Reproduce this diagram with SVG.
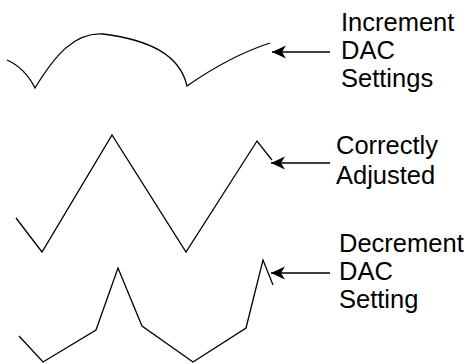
<svg xmlns="http://www.w3.org/2000/svg" width="476" height="364" viewBox="0 0 476 364">
<defs>
<marker id="arr" markerWidth="16" markerHeight="14" refX="15" refY="7" orient="auto" markerUnits="userSpaceOnUse">
<path d="M15,7 L1,0.5 L5,7 L1,13.5 Z" fill="#000"/>
</marker>
<style>
.w{fill:none;stroke:#000;stroke-width:1.3;stroke-linejoin:miter}
.c{fill:none;stroke:#000;stroke-width:1.3}
.t{font-family:"Liberation Sans",Arial,Helvetica,sans-serif;font-size:25.5px;fill:#000}
</style>
</defs>
<rect width="476" height="364" fill="#fff"/>
<g id="wave-increment">
<path class="w" d="M7,60 Q25,68 35,88 C55,55 75,32 103,34 C150,40 180,55 187,86 Q230,56 270,43"/>
</g>
<g id="wave-correct">
<path class="w" d="M16,218 L42,252 L112,135 L186,252 L257,141 L272,160"/>
</g>
<g id="wave-decrement">
<path class="w" d="M19,336 L43,362 L96,330 L118,268 L142,326 L193,362 L246,328 L263,260 L273,285"/>
</g>
<g id="connectors">
<line class="c" x1="330" y1="52" x2="272" y2="52" marker-end="url(#arr)"/>
<line class="c" x1="330" y1="163" x2="271" y2="163" marker-end="url(#arr)"/>
<line class="c" x1="330" y1="273" x2="271" y2="273" marker-end="url(#arr)"/>
</g>
<g id="label-increment">
<text class="t" x="341" y="31">Increment</text>
<text class="t" x="341" y="59">DAC</text>
<text class="t" x="341" y="87">Settings</text>
</g>
<g id="label-correct">
<text class="t" x="336" y="154">Correctly</text>
<text class="t" x="336" y="184">Adjusted</text>
</g>
<g id="label-decrement">
<text class="t" x="339" y="252">Decrement</text>
<text class="t" x="339" y="280">DAC</text>
<text class="t" x="339" y="308">Setting</text>
</g>
</svg>
